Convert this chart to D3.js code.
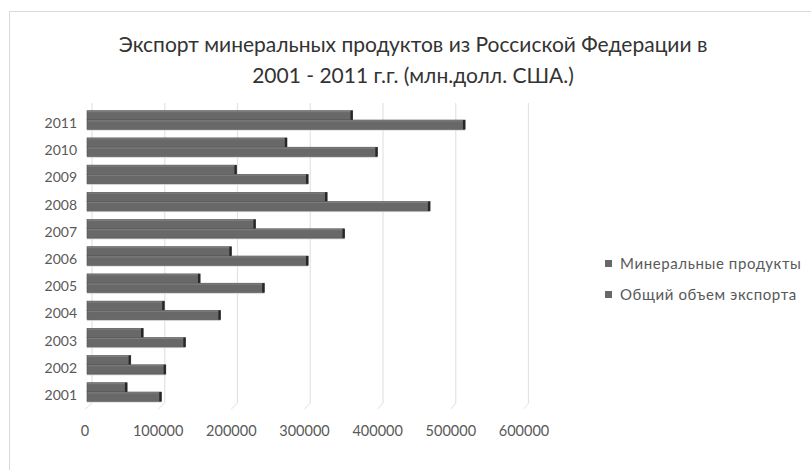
<!DOCTYPE html>
<html><head><meta charset="utf-8">
<script src="https://cdn.jsdelivr.net/npm/d3@7"></script>
<style>body{margin:0;background:#fff}svg{display:block}text{font-family:Lato,"Open Sans",sans-serif}</style>
</head><body>
<script>
const years = [2001,2002,2003,2004,2005,2006,2007,2008,2009,2010,2011];
const mineral = [55000,60000,77000,106000,155000,198000,231000,329000,205000,274000,364000];
const total = [102000,108000,135000,183000,243000,303000,353000,470000,303000,398000,518000];
const seriesNames = ["Минеральные продукты","Общий объем экспорта"];
const xTicks = [0,100000,200000,300000,400000,500000,600000];
const titleLines = ["Экспорт минеральных продуктов из Россиской Федерации в","2001 - 2011 г.г. (млн.долл. США.)"];

const W=811,H=470;
const svg=d3.select("body").append("svg").attr("width",W).attr("height",H);
svg.append("rect").attr("x",9.5).attr("y",11.5).attr("width",W).attr("height",H).attr("fill","#fff").attr("stroke","#d9d9d9");

svg.append("g").selectAll("text").data(titleLines).join("text")
  .attr("x",413).attr("y",(d,i)=>52+i*31).attr("text-anchor","middle")
  .attr("font-size",21).attr("fill","#333").text(d=>d);

const xBack=d3.scaleLinear().domain([0,600000]).range([92,528.5]);
const xFront=d3.scaleLinear().domain([0,600000]).range([85,524]);
const xBar=d3.scaleLinear().domain([0,600000]).range([87,525]);
const y=d3.scaleBand().domain(years.slice().reverse()).range([106.4,405.6]);
const ySub=d3.scaleBand().domain(seriesNames).range([4.3,y.bandwidth()-4.3]);
const backTop=103, backBot=403, frontBot=409;

// gridlines + floor
const grid=svg.append("g");
grid.selectAll("line.g").data(xTicks).join("line")
  .attr("x1",d=>xBack(d)).attr("x2",d=>xBack(d)).attr("y1",backTop).attr("y2",backBot)
  .attr("stroke","#e3e3e3").attr("stroke-width",1.2);
grid.selectAll("line.f").data(xTicks).join("line")
  .attr("x1",d=>xBack(d)).attr("x2",d=>xFront(d)).attr("y1",backBot).attr("y2",frontBot)
  .attr("stroke","#ececec").attr("stroke-width",1.2);

// year labels
svg.append("g").selectAll("text").data(years).join("text")
  .attr("x",77).attr("y",d=>y(d)+y.bandwidth()/2+3+5).attr("text-anchor","end")
  .attr("font-size",14).attr("fill","#595959").text(d=>d);

// tick labels
svg.append("g").selectAll("text").data(xTicks).join("text")
  .attr("x",d=>xFront(d)).attr("y",436).attr("text-anchor","middle")
  .attr("font-size",14.5).attr("fill","#595959").text(d=>d);

// bars
const rows=years.map((yr,i)=>[{s:seriesNames[0],yr,v:mineral[i]},{s:seriesNames[1],yr,v:total[i]}]).flat();
const bh=ySub.bandwidth();
const bars=svg.append("g").selectAll("g").data(rows).join("g");
bars.append("rect").attr("x",xBar(0)).attr("y",d=>y(d.yr)+ySub(d.s)+bh).attr("width",d=>xBar(d.v)-xBar(0)).attr("height",1.2)
  .attr("fill","#cfcfcf").attr("opacity",d=>d.s===seriesNames[1]?1:0);
bars.append("rect").attr("x",xBar(0)).attr("y",d=>y(d.yr)+ySub(d.s)).attr("width",d=>xBar(d.v)-xBar(0)).attr("height",bh)
  .attr("fill","#686868").attr("stroke","#505050").attr("stroke-width",0.6);
bars.append("rect").attr("x",xBar(0)+0.5).attr("y",d=>y(d.yr)+ySub(d.s)+0.3).attr("width",d=>xBar(d.v)-xBar(0)-1).attr("height",1.2)
  .attr("fill","#7c7c7c");
bars.append("rect").attr("x",d=>xBar(d.v)-2.2).attr("y",d=>y(d.yr)+ySub(d.s)).attr("width",2.2).attr("height",bh)
  .attr("fill","#262626");

// legend
const lg=svg.append("g").selectAll("g").data(seriesNames).join("g")
  .attr("transform",(d,i)=>`translate(605,${260+i*31})`);
lg.append("rect").attr("width",7).attr("height",7).attr("fill","#686868");
lg.append("text").attr("x",15).attr("y",8.5).attr("font-size",15).attr("fill","#595959")
  .attr("letter-spacing",0.6).text(d=>d);
</script>
</body></html>
